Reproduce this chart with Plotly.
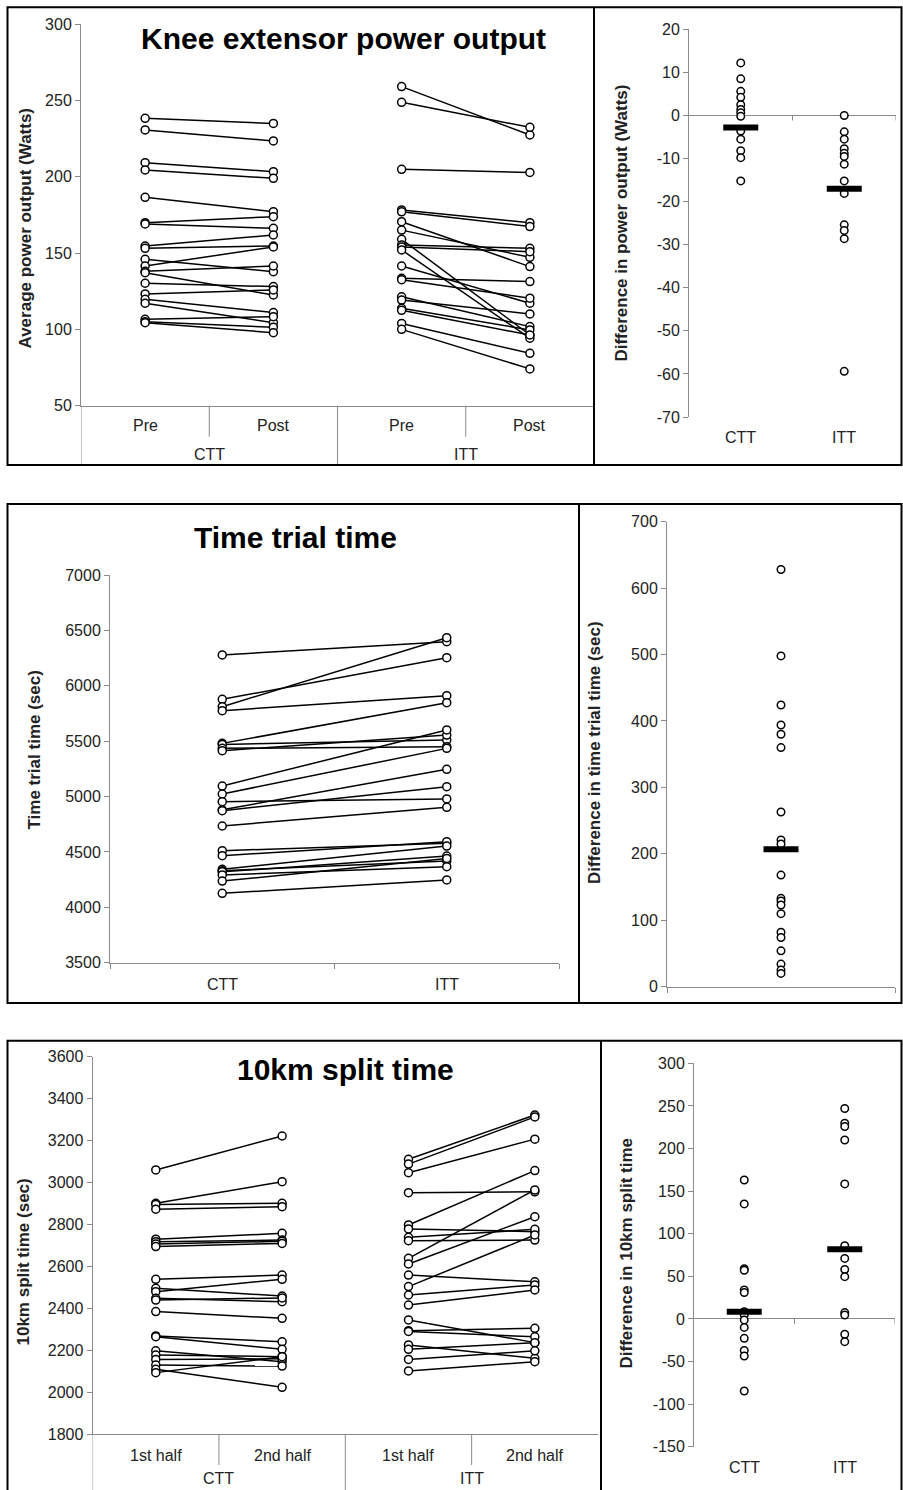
import plotly.graph_objects as go

W, H = 903, 1490

# ---------------- data ----------------
# Knee extensor power output (Watts)
knee_ctt_pre = [238.2, 230.6, 209.2, 204.4, 186.5, 169.9, 169.0, 154.6, 153.1, 145.9,
                141.5, 138.0, 137.1, 130.2, 123.2, 119.7, 117.1, 106.6, 105.0, 104.4]
knee_ctt_post = [234.9, 223.4, 203.3, 198.9, 177.1, 173.8, 166.2, 161.8, 154.6, 137.8,
                 154.0, 141.5, 122.5, 128.0, 125.8, 111.0, 104.4, 108.3, 101.4, 97.8]
knee_itt_pre = [259.0, 248.7, 204.8, 178.2, 177.0, 170.5, 165.0, 159.0, 155.2, 154.0,
                152.0, 141.5, 133.4, 132.5, 121.3, 119.2, 113.8, 112.5, 103.9, 100.0]
knee_itt_post = [227.3, 232.3, 202.8, 169.9, 167.3, 141.1, 147.2, 96.3, 153.1, 150.9,
                 94.2, 117.1, 131.3, 120.4, 101.8, 110.1, 99.6, 96.3, 84.3, 74.1]
knee_diff_ctt = [12.2, 8.5, 5.6, 4.2, 2.5, 1.4, 0.6, -0.2, -3.6, -5.5, -8.2, -9.8, -15.2]
knee_diff_itt = [0.0, -3.8, -5.5, -7.7, -8.8, -9.5, -11.3, -15.2, -18.1, -25.4, -26.7, -28.6, -59.4]
knee_diff_mean = [-2.8, -17.0]

# Time trial time (sec)
tt_ctt = [6278, 5878, 5811, 5775, 5480, 5470, 5435, 5414, 5095, 5023, 4954,
          4880, 4872, 4734, 4511, 4466, 4343, 4331, 4320, 4292, 4237, 4126]
tt_itt = [6398, 6254, 6434, 5911, 5847, 5510, 5450, 5555, 5601, 5435, 4978,
          5246, 5089, 4903, 4578, 4593, 4553, 4418, 4463, 4367, 4440, 4247]
tt_diff = [628, 498, 424, 394, 380, 360, 263, 221, 215, 168, 133, 129, 123, 110,
           82, 74, 54, 34, 25, 20]
tt_diff_mean = [207]

# 10 km split time (sec)
split_ctt_1 = [3060, 2901, 2895, 2873, 2730, 2718, 2707, 2695, 2539, 2496, 2480,
               2448, 2440, 2385, 2269, 2265, 2198, 2178, 2157, 2130, 2110, 2094]
split_ctt_2 = [3222, 3004, 2901, 2885, 2758, 2726, 2720, 2710, 2559, 2459, 2539,
               2432, 2450, 2353, 2241, 2205, 2146, 2170, 2160, 2125, 2024, 2170]
split_itt_1 = [3111, 3088, 3047, 2952, 2798, 2779, 2739, 2723, 2639, 2612, 2559,
               2504, 2464, 2416, 2345, 2294, 2290, 2226, 2205, 2157, 2102]
split_itt_2 = [3322, 3313, 3207, 2956, 3057, 2766, 2777, 2726, 2965, 2837, 2527,
               2750, 2512, 2488, 2237, 2305, 2265, 2162, 2237, 2198, 2146]
split_diff_ctt = [163, 135, 59, 57, 34, 31, 8.5, 4.6, -1.2, -10, -22.8, -37, -43.5, -84.6]
split_diff_itt = [247, 229.6, 225.7, 210, 158.4, 86, 71, 58, 49.6, 7.4, 4.6, -18, -26.7]
split_diff_mean = [8.5, 81.7]

# tick values / labels
knee_ticks = [50, 100, 150, 200, 250, 300]
knee_diff_ticks = [-70, -60, -50, -40, -30, -20, -10, 0, 10, 20]
tt_ticks = [3500, 4000, 4500, 5000, 5500, 6000, 6500, 7000]
tt_diff_ticks = [0, 100, 200, 300, 400, 500, 600, 700]
split_ticks = [1800, 2000, 2200, 2400, 2600, 2800, 3000, 3200, 3400, 3600]
split_diff_ticks = [-150, -100, -50, 0, 50, 100, 150, 200, 250, 300]
groups = ["CTT", "ITT"]
knee_phases = ["Pre", "Post", "Pre", "Post"]
split_phases = ["1st half", "2nd half", "1st half", "2nd half"]

titles = ["Knee extensor power output", "Time trial time", "10km split time"]
ytitles = ["Average power output (Watts)", "Difference in power output (Watts)",
           "Time trial time (sec)", "Difference in time trial time (sec)",
           "10km split time (sec)", "Difference in 10km split time"]

# ---------------- styling helpers ----------------
FONT = "Liberation Sans, Arial, sans-serif"
GRAY = "#8a8a8a"
TXT = "#222222"


def X(px):
    return px / W


def Y(py):
    return 1 - py / H


def paired(a, b, xa, xb):
    xs, ys = [], []
    for u, v in zip(a, b):
        xs += [xa, xb, None]
        ys += [u, v, None]
    return xs, ys


def yaxis(dom, ticks, anchor, zeroline=False):
    return dict(domain=dom, range=[ticks[0], ticks[-1]], tickvals=ticks,
                ticktext=[str(t) for t in ticks], showline=True, linecolor=GRAY,
                linewidth=1, ticks="outside", ticklen=5, tickcolor=GRAY,
                tickfont=dict(size=16, color=TXT, family=FONT), showgrid=False,
                zeroline=zeroline, zerolinecolor=GRAY, zerolinewidth=1,
                anchor=anchor, automargin=False)


def xaxis(dom, rng, anchor, showline=False, tickvals=None):
    d = dict(domain=dom, range=rng, showgrid=False, zeroline=False,
             showticklabels=False, showline=showline, linecolor=GRAY, linewidth=1,
             anchor=anchor, automargin=False)
    if tickvals is not None:
        d.update(tickvals=tickvals, ticks="outside", ticklen=5, tickcolor=GRAY)
    else:
        d.update(ticks="")
    return d


fig = go.Figure()

LINE = dict(color="black", width=1.5)
MK_BIG = dict(symbol="circle", size=8, color="white", line=dict(color="black", width=1.5))
MK_SMALL = dict(symbol="circle", size=7.5, color="white", line=dict(color="black", width=1.5))
MK_MEAN = dict(symbol="line-ew", size=25, color="black", line=dict(color="black", width=6))

# ---- panel 1 ----
for a, b, xa, xb in [(knee_ctt_pre, knee_ctt_post, 0, 1), (knee_itt_pre, knee_itt_post, 2, 3)]:
    xs, ys = paired(a, b, xa, xb)
    fig.add_trace(go.Scatter(x=xs, y=ys, mode="lines+markers", line=LINE, marker=MK_BIG,
                             xaxis="x", yaxis="y", hoverinfo="skip"))
for i, d in enumerate([knee_diff_ctt, knee_diff_itt]):
    fig.add_trace(go.Scatter(x=[i] * len(d), y=d, mode="markers", marker=MK_SMALL,
                             xaxis="x2", yaxis="y2"))
fig.add_trace(go.Scatter(x=[0, 1], y=knee_diff_mean, mode="markers", marker=MK_MEAN,
                         xaxis="x2", yaxis="y2"))

# ---- panel 2 ----
xs, ys = paired(tt_ctt, tt_itt, 0, 1)
fig.add_trace(go.Scatter(x=xs, y=ys, mode="lines+markers", line=LINE, marker=MK_BIG,
                         xaxis="x3", yaxis="y3"))
fig.add_trace(go.Scatter(x=[0] * len(tt_diff), y=tt_diff, mode="markers", marker=MK_SMALL,
                         xaxis="x4", yaxis="y4"))
fig.add_trace(go.Scatter(x=[0], y=tt_diff_mean, mode="markers", marker=MK_MEAN,
                         xaxis="x4", yaxis="y4"))

# ---- panel 3 ----
for a, b, xa, xb in [(split_ctt_1, split_ctt_2, 0, 1), (split_itt_1, split_itt_2, 2, 3)]:
    xs, ys = paired(a, b, xa, xb)
    fig.add_trace(go.Scatter(x=xs, y=ys, mode="lines+markers", line=LINE, marker=MK_BIG,
                             xaxis="x5", yaxis="y5"))
for i, d in enumerate([split_diff_ctt, split_diff_itt]):
    fig.add_trace(go.Scatter(x=[i] * len(d), y=d, mode="markers", marker=MK_SMALL,
                             xaxis="x6", yaxis="y6"))
fig.add_trace(go.Scatter(x=[0, 1], y=split_diff_mean, mode="markers", marker=MK_MEAN,
                         xaxis="x6", yaxis="y6"))

# ---------------- axes ----------------
fig.update_layout(
    xaxis=xaxis([X(81), X(594)], [-0.5, 3.5], "y", showline=True),
    yaxis=yaxis([Y(405.7), Y(24)], knee_ticks, "x"),
    xaxis2=xaxis([X(689), X(896)], [-0.5, 1.5], "y2"),
    yaxis2=yaxis([Y(417), Y(29.3)], knee_diff_ticks, "x2", zeroline=True),
    xaxis3=xaxis([X(110), X(559)], [-0.5, 1.5], "y3", showline=True, tickvals=[-0.5, 0.5, 1.5]),
    yaxis3=yaxis([Y(962.7), Y(575)], tt_ticks, "x3"),
    xaxis4=xaxis([X(667), X(895)], [-0.5, 0.5], "y4", showline=True, tickvals=[-0.5, 0.5]),
    yaxis4=yaxis([Y(986.7), Y(521.7)], tt_diff_ticks, "x4"),
    xaxis5=xaxis([X(92.6), X(598)], [-0.5, 3.5], "y5", showline=True),
    yaxis5=yaxis([Y(1434.3), Y(1056.7)], split_ticks, "x5"),
    xaxis6=xaxis([X(694), X(895)], [-0.5, 1.5], "y6"),
    yaxis6=yaxis([Y(1446.7), Y(1063.3)], split_diff_ticks, "x6", zeroline=True),
)

# ---------------- annotations ----------------
ann = []


def txt(text, x, y, xref="paper", size=16, color=TXT, angle=0):
    ann.append(dict(text=text, x=x, y=y, xref=xref, yref="paper", showarrow=False,
                    xanchor="center", yanchor="middle", textangle=angle,
                    font=dict(size=size, color=color, family=FONT)))


# titles
txt("<b>%s</b>" % titles[0], X(343), Y(39), size=30, color="black")
txt("<b>%s</b>" % titles[1], X(295.5), Y(537), size=30, color="black")
txt("<b>%s</b>" % titles[2], X(345), Y(1069), size=30, color="black")

# y titles
ypos = [(25, 228.5), (621.6, 223), (33.5, 750), (594, 753), (23, 1262.5), (625.5, 1253)]
for t, (px, py) in zip(ytitles, ypos):
    txt("<b>%s</b>" % t, X(px), Y(py), size=17, color=TXT, angle=-90)

# category labels
for i, lab in enumerate(knee_phases):
    txt(lab, i, Y(426), xref="x")
for i, lab in enumerate(groups):
    txt(lab, 0.5 + 2 * i, Y(455), xref="x")
    txt(lab, i, Y(437.5), xref="x2")
    txt(lab, i, Y(984.5), xref="x3")
    txt(lab, 0.5 + 2 * i, Y(1478), xref="x5")
    txt(lab, i, Y(1467), xref="x6")
for i, lab in enumerate(split_phases):
    txt(lab, i, Y(1455), xref="x5")

# ---------------- shapes ----------------
shapes = []


def seg(x0, y0, x1, y1, xref="paper", yref="paper", color=GRAY, width=1):
    shapes.append(dict(type="line", x0=x0, y0=y0, x1=x1, y1=y1, xref=xref, yref=yref,
                       line=dict(color=color, width=width), layer="below"))


# category dividers (left panels)
seg(-0.5, Y(405.7), -0.5, Y(465), xref="x")
seg(0.5, Y(405.7), 0.5, Y(436.7), xref="x")
seg(1.5, Y(405.7), 1.5, Y(465), xref="x")
seg(2.5, Y(405.7), 2.5, Y(436.7), xref="x")
seg(-0.5, Y(1434.3), -0.5, Y(1490), xref="x5")
seg(0.5, Y(1434.3), 0.5, Y(1465), xref="x5")
seg(1.5, Y(1434.3), 1.5, Y(1490), xref="x5")
seg(2.5, Y(1434.3), 2.5, Y(1465), xref="x5")

# ticks on the zero line (right panels 1 and 3)
for xr, yr in [("x2", "y2"), ("x6", "y6")]:
    for xv in [0.5, 1.5]:
        shapes.append(dict(type="line", xref=xr, yref=yr, x0=xv, x1=xv,
                           ysizemode="pixel", yanchor=0, y0=0, y1=-5,
                           line=dict(color=GRAY, width=1)))

# panel borders
for top, bot, div in [(7.3, 465, 594), (504, 1003, 579), (1040.7, 1492, 601)]:
    shapes.append(dict(type="rect", xref="paper", yref="paper", x0=X(7.5), x1=X(901.5),
                       y0=Y(bot), y1=Y(top), line=dict(color="black", width=2),
                       fillcolor="rgba(0,0,0,0)", layer="above"))
    shapes.append(dict(type="line", xref="paper", yref="paper", x0=X(div), x1=X(div),
                       y0=Y(bot), y1=Y(top), line=dict(color="black", width=2),
                       layer="above"))

fig.update_layout(
    width=W, height=H, margin=dict(l=0, r=0, t=0, b=0, pad=0, autoexpand=False),
    paper_bgcolor="white", plot_bgcolor="white", showlegend=False,
    font=dict(family=FONT, color=TXT), annotations=ann, shapes=shapes,
    hovermode=False,
)

fig.write_html("out.html", config={"displayModeBar": False},
               post_script="document.body.style.margin='0';")
